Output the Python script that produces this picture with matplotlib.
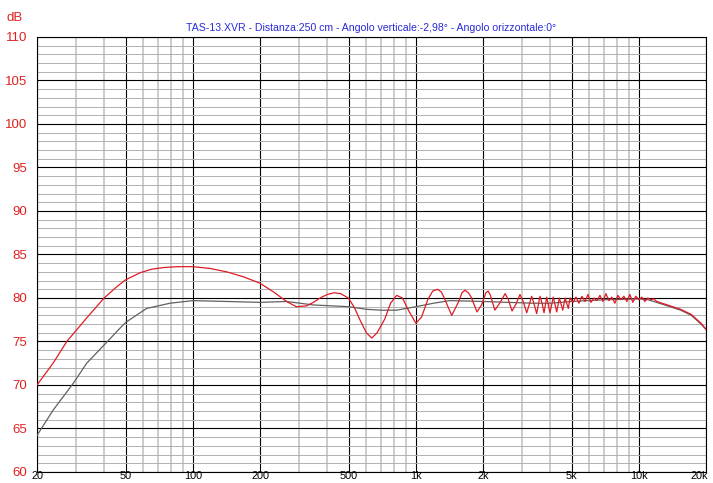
import matplotlib
matplotlib.use("Agg")
import matplotlib.pyplot as plt
from matplotlib.ticker import FixedLocator, NullFormatter
from matplotlib.transforms import ScaledTranslation

plt.rcParams["font.family"] = ["Liberation Sans", "DejaVu Sans"]

title = "TAS-13.XVR - Distanza:250 cm - Angolo verticale:-2,98° - Angolo orizzontale:0°"

# red curve (off-axis response)
red_freq = [20, 23.6, 27.2, 33.4, 40, 45.6, 50, 58, 65, 74, 85, 100, 119, 142, 168, 200,
            230, 263, 291, 324, 347, 372, 400, 430, 460, 498, 530, 561, 600, 634, 670,
            726, 770, 820, 870, 930, 1000, 1060, 1130, 1190, 1250, 1300, 1340, 1448,
            1550, 1610, 1660, 1720, 1770, 1880, 1970, 2060, 2110, 2160, 2260, 2390,
            2512, 2600, 2700, 2810, 2930, 3030, 3140, 3220, 3307, 3390, 3482, 3540,
            3602, 3680, 3755, 3861, 3993, 4133, 4282, 4400, 4557, 4667, 4827, 4911,
            5065, 5224, 5388, 5557, 5731, 5911, 6097, 6288, 6485, 6689, 6899, 7115,
            7338, 7569, 7806, 8051, 8304, 8565, 8833, 9110, 9396, 9691, 9995, 10309,
            10633, 10966, 11311, 11666, 12032, 13800, 15400, 17200, 19000, 20000]
red_db = [70.0, 72.5, 75.0, 77.7, 80.0, 81.3, 82.1, 82.9, 83.3, 83.5, 83.6, 83.6, 83.4,
          83.0, 82.45, 81.7, 80.7, 79.6, 79.0, 79.1, 79.5, 80.0, 80.4, 80.6, 80.5, 80.0,
          78.9, 77.5, 76.0, 75.4, 76.0, 77.6, 79.4, 80.3, 80.0, 78.5, 77.1, 77.8, 79.8,
          80.8, 81.0, 80.7, 80.0, 78.0, 79.5, 80.6, 80.9, 80.6, 80.1, 78.4, 79.2, 80.6,
          80.8, 80.3, 78.6, 79.5, 80.5, 79.8, 78.5, 79.3, 80.4, 79.6, 78.3, 79.2, 80.2,
          79.3, 78.2, 79.2, 80.2, 79.4, 78.3, 80.1, 78.3, 80.1, 78.4, 80.0, 78.6, 80.0,
          78.8, 80.0,
          79.5, 80.1, 79.4, 80.2, 79.6, 80.4, 79.5, 80.0, 79.7, 80.3, 79.6, 80.5,
          79.7, 80.1, 79.4, 80.3, 79.8, 80.2, 79.6, 80.4, 79.5, 80.2, 79.8, 80.1,
          79.6, 80.0, 79.8, 79.9, 79.6, 79.1, 78.7, 78.1, 77.1, 76.4]

# gray curve (reference response)
gray_freq = [20, 23.6, 29.1, 33.4, 40, 47, 50, 62, 79, 100, 142, 200, 263, 347, 500,
             600, 700, 820, 1000, 1200, 1420, 2000, 3360, 4000, 5000, 7000, 10000,
             11000, 12000, 13800, 15400, 17200, 19000, 20000]
gray_db = [64.2, 67.1, 70.2, 72.5, 74.6, 76.5, 77.2, 78.8, 79.4, 79.7, 79.6, 79.5, 79.6,
           79.2, 79.0, 78.7, 78.6, 78.6, 79.0, 79.4, 79.7, 79.6, 79.4, 79.4, 79.6, 79.8,
           79.9, 79.8, 79.5, 79.0, 78.6, 78.0, 77.0, 76.4]

x_major = [20, 50, 100, 200, 500, 1000, 2000, 5000, 10000, 20000]
x_labels = ["20", "50", "100", "200", "500", "1k", "2k", "5k", "10k", "20k"]
x_minor = [30, 40, 60, 70, 80, 90, 300, 400, 600, 700, 800, 900, 3000, 4000,
           6000, 7000, 8000, 9000]
y_major = list(range(60, 111, 5))
y_minor = list(range(60, 111, 1))

fig = plt.figure(figsize=(7.13, 4.83), dpi=100)
ax = fig.add_axes([37 / 713, 1 - 472 / 483, 669 / 713, 435 / 483])

ax.plot(gray_freq, gray_db, color="#606060", lw=0.9, zorder=3)
ax.plot(red_freq, red_db, color="#e01b24", lw=0.9, zorder=4)

ax.set_xscale("log")
ax.set_xlim(20, 20000)
ax.set_ylim(60, 110)

ax.xaxis.set_major_locator(FixedLocator(x_major))
ax.set_xticklabels(x_labels)
ax.xaxis.set_minor_locator(FixedLocator(x_minor))
ax.xaxis.set_minor_formatter(NullFormatter())
ax.yaxis.set_major_locator(FixedLocator(y_major))
ax.yaxis.set_minor_locator(FixedLocator(y_minor))

ax.xaxis.grid(True, which="major", color="black", lw=0.8)
ax.xaxis.grid(True, which="minor", color="#c4c4c4", lw=1.2)
ax.yaxis.grid(True, which="minor", color="#b0b0b0", lw=0.7)
ax.yaxis.grid(True, which="major", color="black", lw=0.8)
ax.set_axisbelow(True)

ax.tick_params(which="both", length=0)
ax.tick_params(axis="y", labelcolor="#e02020", labelsize=9.5, pad=7)
ax.tick_params(axis="x", labelcolor="black", labelsize=7.8, pad=-0.5)
for s in ax.spines.values():
    s.set_color("black")
    s.set_linewidth(0.8)

# keep "20k" inside the picture
last = ax.get_xticklabels()[-1]
last.set_transform(last.get_transform() + ScaledTranslation(-0.07, 0, fig.dpi_scale_trans))

fig.text(15 / 713, 1 - 18 / 483, "dB", color="#e02020", fontsize=9.5,
         ha="center", va="center")
ax.set_title(title, color="#2a2ad8", fontsize=7.6, pad=4)

fig.savefig("out.png", dpi=100, facecolor="white")
